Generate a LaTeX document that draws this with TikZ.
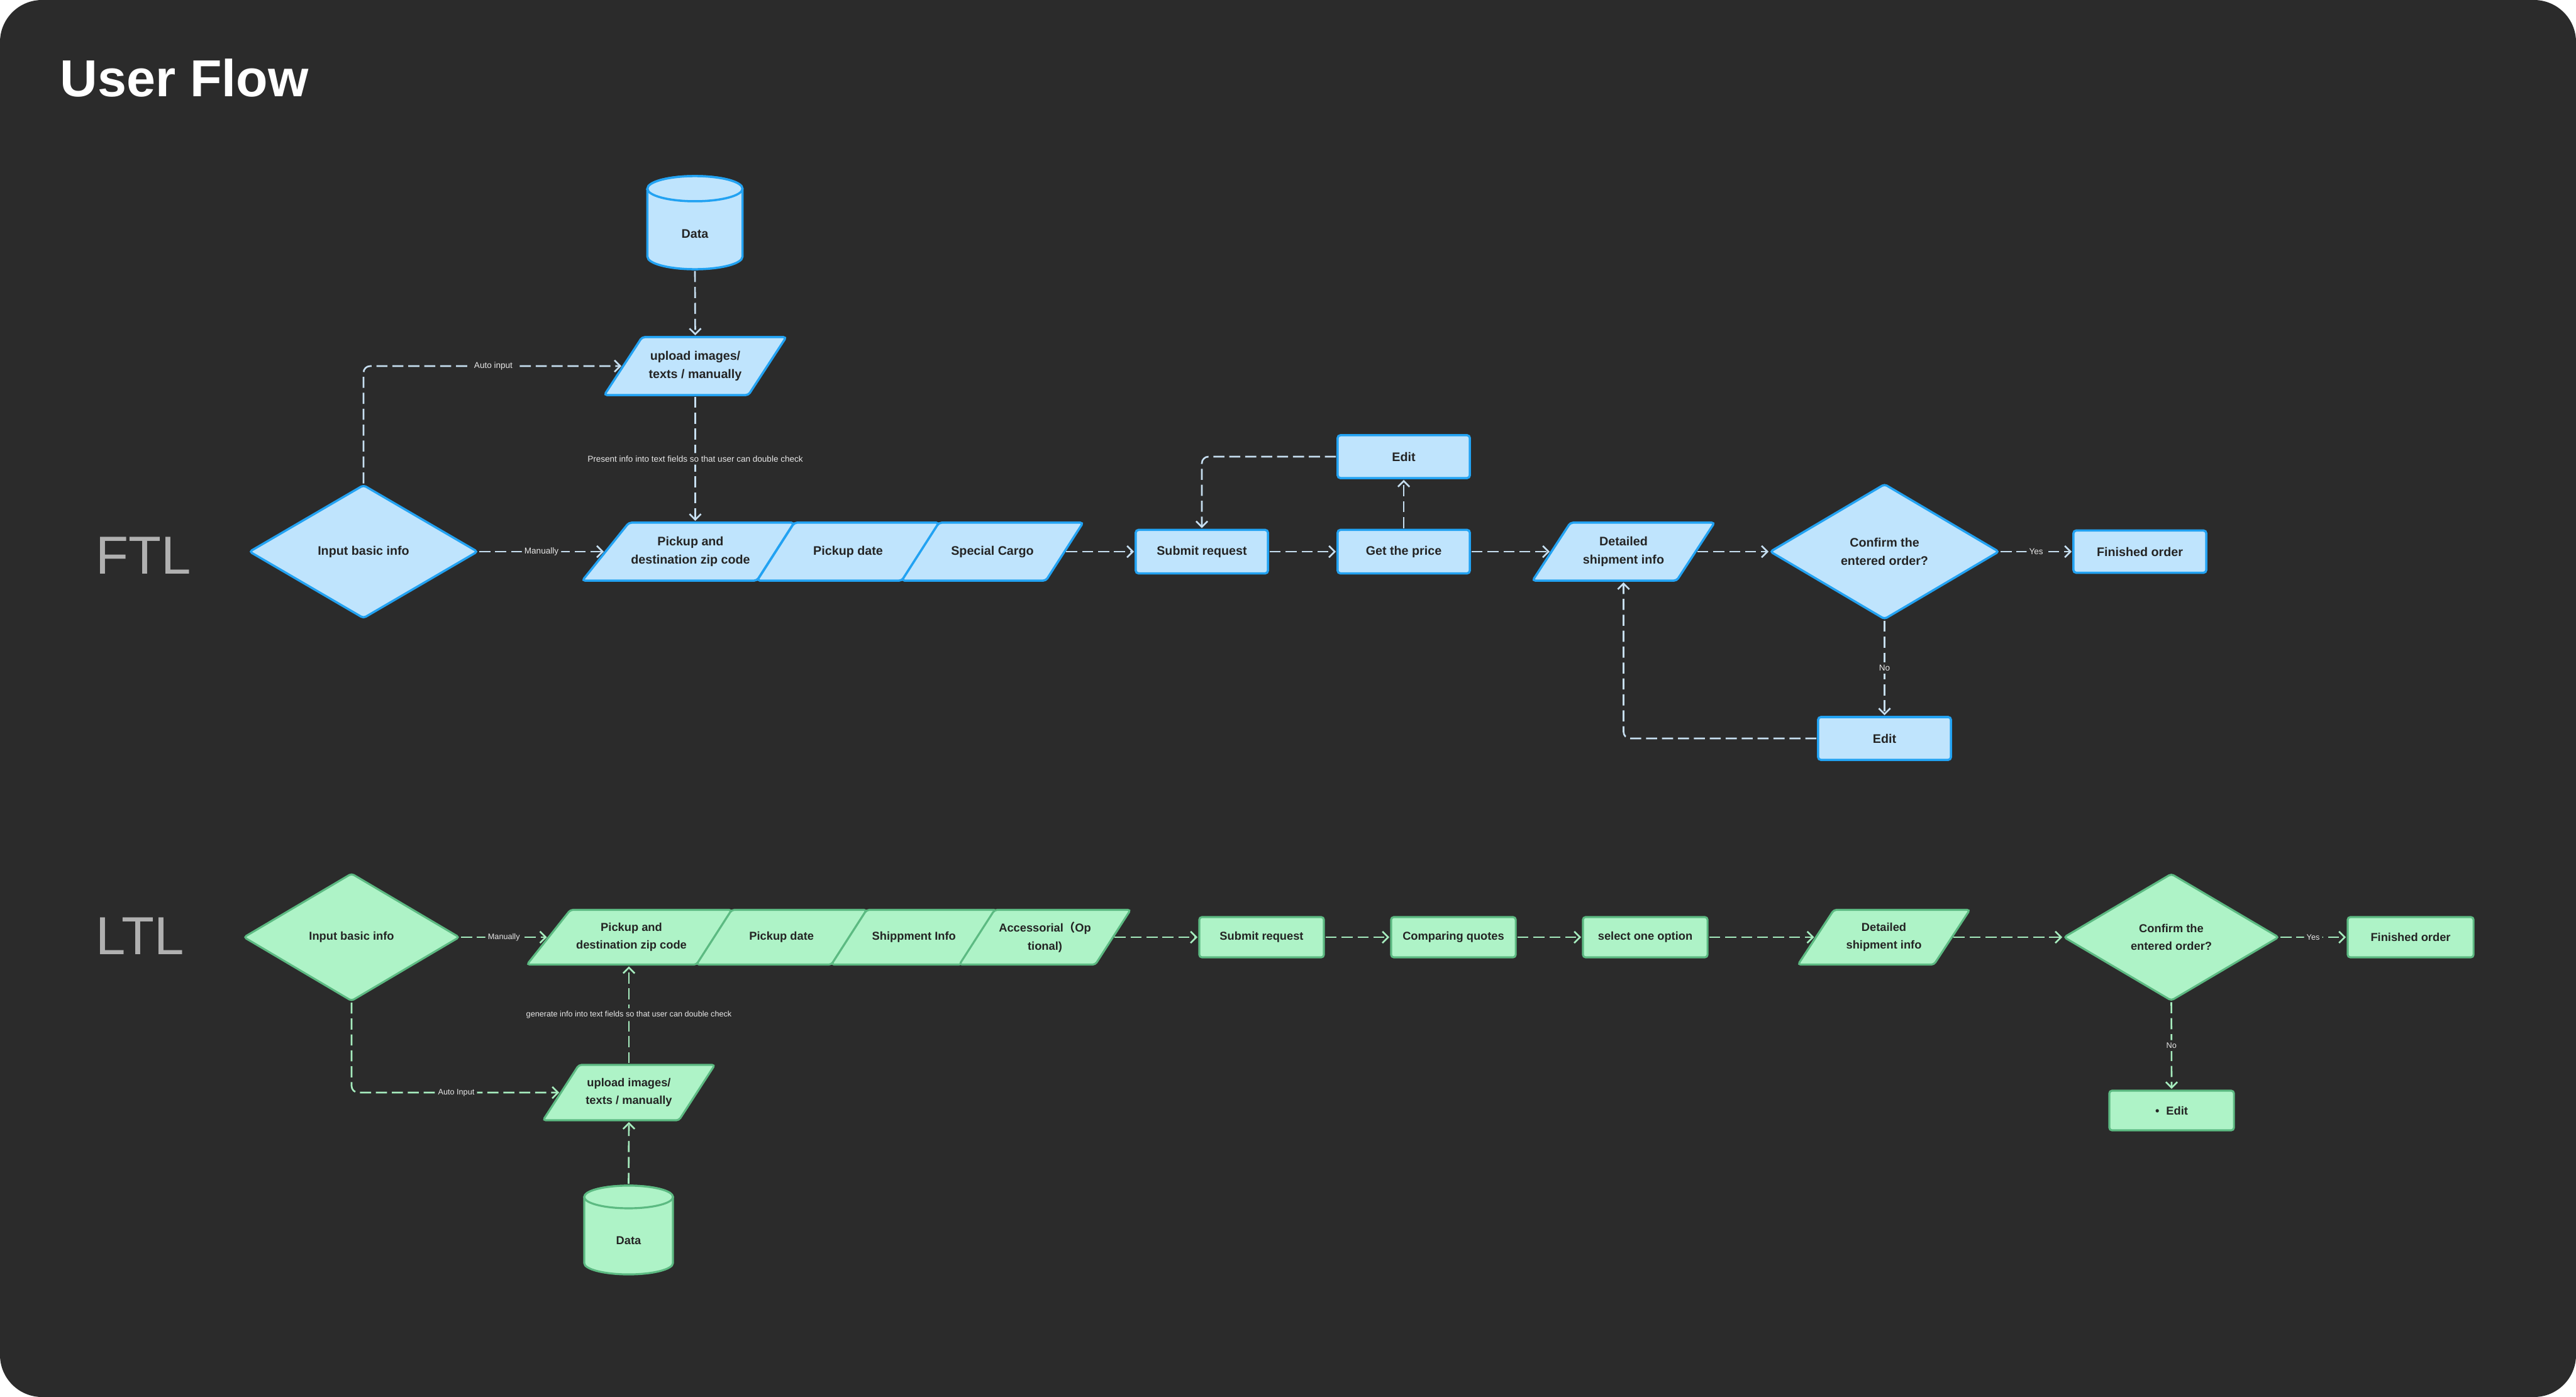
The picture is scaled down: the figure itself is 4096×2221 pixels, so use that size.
\documentclass[tikz,border=0pt]{standalone}
\usepackage{fontspec}
\setmainfont{Liberation Sans}
\newfontfamily\cjk{Noto Sans CJK SC}
\usetikzlibrary{arrows.meta}
\definecolor{bgc}{HTML}{2B2B2B}
\definecolor{bfill}{HTML}{BFE4FD}
\definecolor{bline}{HTML}{22A2F2}
\definecolor{gfill}{HTML}{AEF3C7}
\definecolor{gline}{HTML}{5CBA82}
\definecolor{bconc}{HTML}{C6DEF0}
\definecolor{gconc}{HTML}{A6ECBE}
\definecolor{txt}{HTML}{242424}
\definecolor{lbl}{HTML}{E8E8E8}
\definecolor{sec}{HTML}{B0B0B0}
\pgfdeclarelayer{back}
\pgfdeclarelayer{shapes}
\pgfsetlayers{back,shapes,main}
\newcommand\para[3]{\path[#3] ([xshift=#2]#1.north west) -- ([xshift=#2]#1.north east) -- ([xshift=-#2]#1.south east) -- ([xshift=-#2]#1.south west) -- cycle;}
\newcommand\paraL[4]{\path[#4] ([xshift=#2]#1.north west) -- ([xshift=#3]#1.north east) -- ([xshift=-#3]#1.south east) -- ([xshift=-#2]#1.south west) -- cycle;}
\newcommand\cyl[4]{%
  \path[#4,sharp corners] ([yshift=-#3]#1.north west) -- ([yshift=#3]#1.south west) arc[start angle=180,end angle=360,x radius=#2,y radius=#3] -- ([yshift=-#3]#1.north east) arc[start angle=0,end angle=180,x radius=#2,y radius=#3] -- cycle;
  \path[#4,sharp corners] ([yshift=-#3]#1.north) ellipse[x radius=#2,y radius=#3];}
\newcommand\dmd[2]{\path[#2] (#1.north) -- (#1.east) -- (#1.south) -- (#1.west) -- cycle;}
\begin{document}
\begin{tikzpicture}[x=0.01cm,y=-0.01cm,
  nd/.style={inner sep=0pt, outer sep=0pt, align=center, text=txt},
  ftxt/.style={font=\fontsize{5.6}{8.3}\selectfont\bfseries},
  ltxt/.style={font=\fontsize{5.2}{8}\selectfont\bfseries},
  bshape/.style={fill=bfill, draw=bline, line width=1pt, rounded corners=1.2pt},
  gshape/.style={fill=gfill, draw=gline, line width=0.9pt, rounded corners=1.2pt},
  bbox/.style={nd, ftxt, bshape, rectangle},
  gbox/.style={nd, ltxt, gshape, rectangle},
  con/.style={dash pattern=on 5pt off 2.2pt, line width=0.75pt, rounded corners=3pt,
    -{Straight Barb[length=2.6pt,width=5.2pt]}, shorten >=0.8pt, shorten <=0.8pt},
  bcon/.style={con, draw=bconc},
  gcon/.style={con, draw=gconc},
  elab/.style={fill=bgc, text=lbl, inner sep=1.2pt, font=\fontsize{3.85}{4.5}\selectfont},
  elabg/.style={fill=bgc, text=lbl, inner sep=1.2pt, font=\fontsize{3.6}{4.2}\selectfont}
]
\useasboundingbox (0,0) rectangle (4096,2221);
\begin{pgfonlayer}{back}
  \fill[white] (0,0) rectangle (4096,2221);
  \fill[bgc, rounded corners=19pt] (0,0) rectangle (4096,2221);
\end{pgfonlayer}

% titles
\node[anchor=base west, inner sep=0pt, text=white, font=\fontsize{23.5}{28}\selectfont\bfseries] (title) at (95,153) {User Flow};
\node[anchor=base west, inner sep=0pt, text=sec, font=\fontsize{24.2}{28}\selectfont] (ftl) at (152,912) {FTL};
\node[anchor=base west, inner sep=0pt, text=sec, font=\fontsize{24.2}{28}\selectfont] (ltl) at (152,1517) {LTL};

% ---------------- FTL nodes
\node[nd, minimum width=1.51cm, minimum height=1.48cm] (dataA) at (1105,354) {};
\node[nd, ftxt] (dataAt) at (1105,372) {Data};
\node[nd, ftxt, minimum width=2.29cm, minimum height=0.92cm] (upA) at (1105.5,582) {upload images/\\texts / manually};
\node[nd, ftxt, minimum width=3.62cm, minimum height=2.11cm] (inA) at (578,877) {Input basic info};
\node[nd, ftxt, minimum width=2.70cm, minimum height=0.92cm] (pzA) at (1098,877) {Pickup and\\destination zip code};
\node[nd, ftxt, minimum width=2.30cm, minimum height=0.92cm] (pdA) at (1348.5,877) {Pickup date};
\node[nd, ftxt, minimum width=2.29cm, minimum height=0.92cm] (scA) at (1578,877) {Special Cargo};
\node[bbox, minimum width=2.10cm, minimum height=0.69cm] (subA) at (1911,877) {Submit request};
\node[bbox, minimum width=2.10cm, minimum height=0.69cm] (gpA) at (2232,877) {Get the price};
\node[bbox, minimum width=2.10cm, minimum height=0.68cm] (edA) at (2232,726) {Edit};
\node[nd, ftxt, minimum width=2.29cm, minimum height=0.92cm] (detA) at (2581.5,877) {Detailed\\shipment info};
\node[nd, ftxt, minimum width=3.63cm, minimum height=2.14cm] (cfA) at (2996.5,877) {Confirm the\\entered order?};
\node[bbox, minimum width=2.11cm, minimum height=0.67cm] (finA) at (3402.5,877) {Finished order};
\node[bbox, minimum width=2.11cm, minimum height=0.68cm] (ed2A) at (2996.5,1174) {Edit};

% ---------------- LTL nodes
\node[nd, ltxt, minimum width=3.42cm, minimum height=2.02cm] (inB) at (559,1490) {Input basic info};
\node[nd, ltxt, minimum width=2.63cm, minimum height=0.87cm] (pzB) at (1004,1490) {Pickup and\\destination zip code};
\node[nd, ltxt, minimum width=2.145cm, minimum height=0.87cm] (pdB) at (1242.75,1490) {Pickup date};
\node[nd, ltxt, minimum width=2.065cm, minimum height=0.87cm] (siB) at (1453.25,1490) {Shippment Info};
\node[nd, ltxt, minimum width=2.16cm, minimum height=0.87cm] (acB) at (1661.5,1490) {Accessorial{\cjk\bfseries （}Op\\tional)};
\node[nd, ltxt, minimum width=2.16cm, minimum height=0.88cm] (upB) at (1000,1737) {upload images/\\texts / manually};
\node[nd, minimum width=1.41cm, minimum height=1.41cm] (dataB) at (999.5,1955.5) {};
\node[nd, ltxt] (dataBt) at (999.5,1972) {Data};
\node[gbox, minimum width=1.98cm, minimum height=0.64cm] (subB) at (2006,1490) {Submit request};
\node[gbox, minimum width=1.98cm, minimum height=0.64cm] (cqB) at (2311,1490) {Comparing quotes};
\node[gbox, minimum width=1.98cm, minimum height=0.64cm] (soB) at (2616,1490) {select one option};
\node[nd, ltxt, minimum width=2.16cm, minimum height=0.87cm] (detB) at (2995.5,1490) {Detailed\\shipment info};
\node[nd, ltxt, minimum width=3.41cm, minimum height=2.01cm] (cfB) at (3452.5,1490) {Confirm the\\entered order?};
\node[gbox, minimum width=2.00cm, minimum height=0.64cm] (finB) at (3833,1490) {Finished order};
\node[gbox, minimum width=1.98cm, minimum height=0.63cm] (ed2B) at (3453,1765.5) {•\hspace{0.6em}Edit};

% ---------------- shapes behind texts
\begin{pgfonlayer}{shapes}
  \cyl{dataA}{0.755cm}{0.2cm}{bshape}
  \para{upA}{0.3cm}{bshape}
  \dmd{inA}{bshape}
  \paraL{pzA}{0.37cm}{0.295cm}{bshape}
  \para{pdA}{0.295cm}{bshape}
  \para{scA}{0.295cm}{bshape}
  \para{detA}{0.3cm}{bshape}
  \dmd{cfA}{bshape}
  \dmd{inB}{gshape}
  \paraL{pzB}{0.345cm}{0.28cm}{gshape}
  \para{pdB}{0.28cm}{gshape}
  \para{siB}{0.28cm}{gshape}
  \para{acB}{0.28cm}{gshape}
  \para{upB}{0.285cm}{gshape}
  \cyl{dataB}{0.705cm}{0.18cm}{gshape}
  \para{detB}{0.285cm}{gshape}
  \dmd{cfB}{gshape}
\end{pgfonlayer}

% ---------------- FTL connectors
\draw[bcon] (dataA.south) -- (upA.north);
\draw[bcon] (inA.north) |- node[elab, pos=0.75] {Auto input} (upA.west);
\draw[bcon] (inA.east) -- node[elab] {Manually} (pzA.west);
\draw[bcon] (upA.south) -- node[elab] {Present info into text fields so that user can double check} (upA.south |- pzA.north);
\draw[bcon] (scA.east) -- (subA.west);
\draw[bcon] (subA.east) -- (gpA.west);
\draw[bcon] (gpA.north) -- (edA.south);
\draw[bcon] (edA.west) -| (subA.north);
\draw[bcon] (gpA.east) -- (detA.west);
\draw[bcon] (detA.east) -- (cfA.west);
\draw[bcon] (cfA.east) -- node[elab] {Yes} (finA.west);
\draw[bcon] (cfA.south) -- node[elab] {No} (ed2A.north);
\draw[bcon] (ed2A.west) -| (detA.south);

% ---------------- LTL connectors
\draw[gcon] (inB.east) -- node[elabg] {Manually} (pzB.west);
\draw[gcon] (inB.south) |- node[elabg, pos=0.75] {Auto Input} (upB.west);
\draw[gcon] (upB.north) -- node[elabg] {generate info into text fields so that user can double check} (upB.north |- pzB.south);
\draw[gcon] (dataB.north) -- (upB.south);
\draw[gcon] (acB.east) -- (subB.west);
\draw[gcon] (subB.east) -- (cqB.west);
\draw[gcon] (cqB.east) -- (soB.west);
\draw[gcon] (soB.east) -- (detB.west);
\draw[gcon] (detB.east) -- (cfB.west);
\draw[gcon] (cfB.east) -- node[elabg] {Yes} (finB.west);
\draw[gcon] (cfB.south) -- node[elabg] {No} (ed2B.north);
\end{tikzpicture}
\end{document}
